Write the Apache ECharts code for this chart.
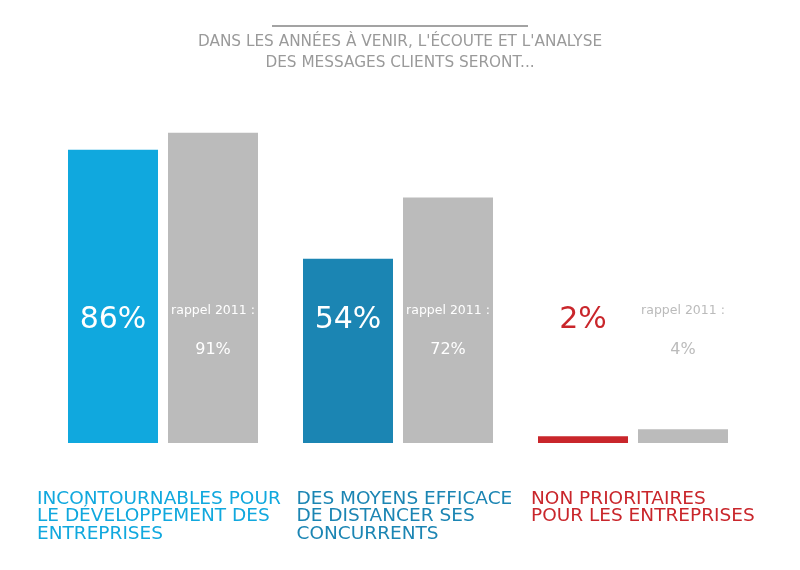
<!DOCTYPE html>
<html>
<head>
<meta charset="utf-8">
<script src="https://cdn.jsdelivr.net/npm/echarts@6/dist/echarts.min.js"></script>
<style>html,body{margin:0;padding:0;background:#fff}#chart{width:800px;height:570px}</style>
</head>
<body>
<div id="chart"></div>
<script>
const titleLines = ["DANS LES ANNÉES À VENIR, L'ÉCOUTE ET L'ANALYSE", "DES MESSAGES CLIENTS SERONT..."];
const categories = [
  ["INCONTOURNABLES POUR", "LE DÉVELOPPEMENT DES", "ENTREPRISES"],
  ["DES MOYENS EFFICACE", "DE DISTANCER SES", "CONCURRENTS"],
  ["NON PRIORITAIRES", "POUR LES ENTREPRISES"]
];
const values2015 = [86, 54, 2];
const values2011 = [91, 72, 4];
const recallLabel = "rappel 2011 :";

const catColors = ['#10a8de', '#1b85b3', '#c9262b'];
const grayBar = '#bbbbbb';
const labelShift = [126, 101.5, 102];

const chart = echarts.init(document.getElementById('chart'));
const FONT = 'DejaVu Sans';

const richCats = {};
catColors.forEach((c, i) => {
  richCats['c' + i] = {width: labelShift[i], align: 'left', color: c, fontSize: 18.5, lineHeight: 17.5, fontFamily: FONT};
});

chart.setOption({
  animation: false,
  title: {
    text: titleLines.join('\n'),
    left: 'center', top: 27,
    textStyle: {color: '#9a9a9a', fontSize: 15.3, fontWeight: 'normal', lineHeight: 21, fontFamily: FONT}
  },
  graphic: [{
    type: 'line', shape: {x1: 272, y1: 26, x2: 528, y2: 26},
    style: {stroke: '#a3a3a3', lineWidth: 2}
  }],
  grid: {left: 45.5, right: 49.5, top: 102, bottom: 127},
  xAxis: {
    type: 'category',
    data: categories.map((lines, i) => lines.map(l => '{c' + i + '|' + l + '}').join('\n')),
    axisLine: {show: false}, axisTick: {show: false},
    axisLabel: {
      interval: 0, align: 'right', margin: 47, verticalAlign: 'top',
      formatter: v => v,
      rich: richCats
    }
  },
  yAxis: {type: 'value', min: 0, max: 100, show: false, splitLine: {show: false}},
  series: [
    {
      type: 'bar', barWidth: 90, barGap: '11.11%',
      data: values2015.map((v, i) => ({
        value: v,
        itemStyle: {color: catColors[i]},
        label: {color: i === 2 ? catColors[2] : '#ffffff'}
      })),
      label: {
        show: true, position: 'insideBottom', distance: 103,
        formatter: '{c}%', fontSize: 30, lineHeight: 40, fontFamily: FONT
      }
    },
    {
      type: 'bar', barWidth: 90,
      data: values2011.map((v, i) => ({
        value: v,
        itemStyle: {color: grayBar},
        label: {color: i === 2 ? grayBar : '#ffffff'}
      })),
      label: {
        show: true, position: 'insideBottom', distance: 73.5,
        formatter: p => '{r|' + recallLabel + '}\n{p|' + p.value + '%}',
        fontFamily: FONT,
        rich: {
          r: {fontSize: 12.5, lineHeight: 39, fontFamily: FONT},
          p: {fontSize: 16, lineHeight: 39, fontFamily: FONT}
        }
      }
    }
  ]
});
</script>
</body>
</html>
